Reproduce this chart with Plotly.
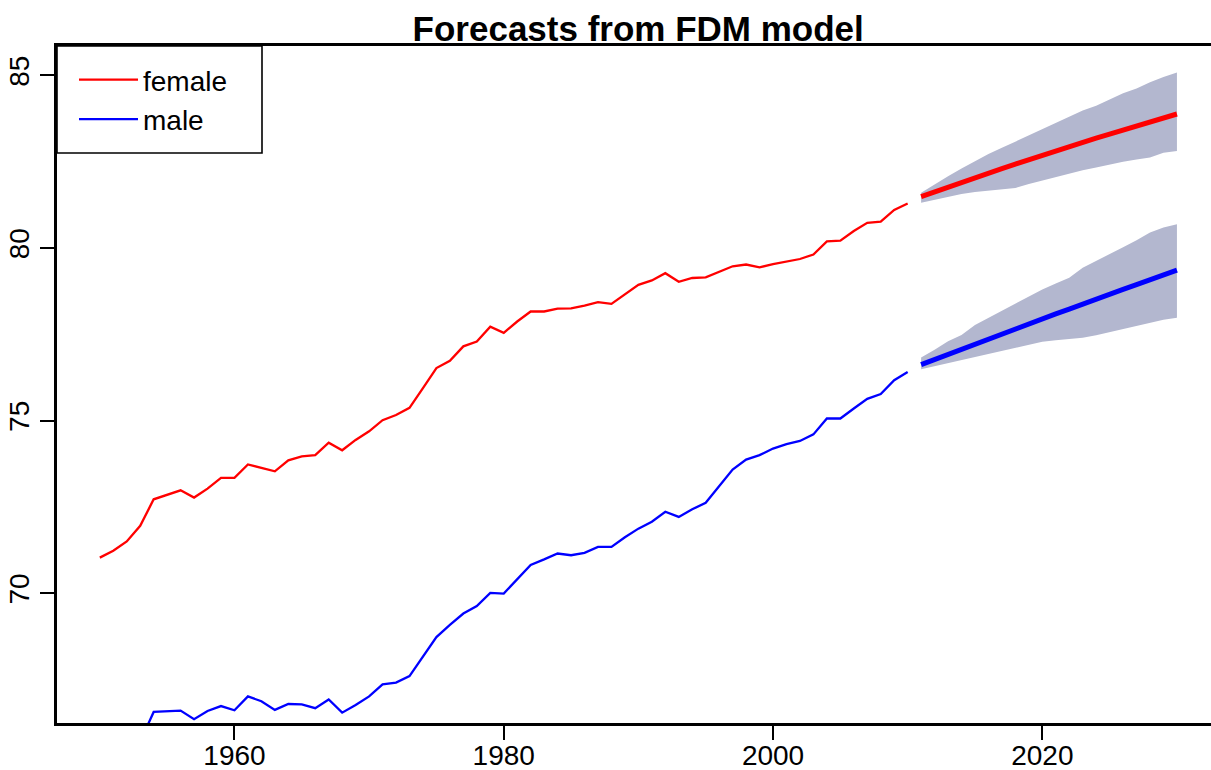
import plotly.graph_objects as go

# ---- historical data ----
years_hist = list(range(1950, 2011))
female_hist = [71.03, 71.23, 71.50, 71.95, 72.72, 72.84, 72.98, 72.77, 73.03, 73.34,
               73.34, 73.73, 73.63, 73.53, 73.85, 73.96, 74.00, 74.36, 74.14, 74.44,
               74.69, 75.01, 75.16, 75.37, 75.94, 76.52, 76.73, 77.15, 77.29, 77.72,
               77.54, 77.87, 78.16, 78.16, 78.24, 78.25, 78.33, 78.43, 78.38, 78.66,
               78.93, 79.06, 79.27, 79.02, 79.13, 79.15, 79.30, 79.47, 79.52, 79.44,
               79.53, 79.61, 79.68, 79.81, 80.19, 80.21, 80.49, 80.73, 80.76, 81.10,
               81.29]
male_hist = [65.10, 65.30, 65.50, 65.70, 66.56, 66.57, 66.60, 66.35, 66.59, 66.73,
             66.61, 67.01, 66.87, 66.62, 66.79, 66.78, 66.67, 66.92, 66.54, 66.76,
             67.01, 67.36, 67.41, 67.60, 68.18, 68.73, 69.08, 69.41, 69.63, 70.01,
             69.99, 70.41, 70.82, 70.98, 71.15, 71.10, 71.17, 71.34, 71.34, 71.62,
             71.87, 72.07, 72.36, 72.21, 72.43, 72.62, 73.11, 73.58, 73.87, 74.00,
             74.19, 74.32, 74.41, 74.60, 75.06, 75.06, 75.35, 75.63, 75.77, 76.17,
             76.41]

# ---- forecasts ----
years_fc = list(range(2011, 2031))
female_fc = [81.49, 81.63, 81.77, 81.90, 82.04, 82.17, 82.30, 82.43, 82.56, 82.69,
             82.81, 82.94, 83.06, 83.18, 83.30, 83.42, 83.54, 83.65, 83.77, 83.88]
female_hi = [81.60, 81.85, 82.08, 82.30, 82.52, 82.72, 82.90, 83.08, 83.27, 83.45,
             83.62, 83.80, 83.98, 84.12, 84.30, 84.48, 84.62, 84.80, 84.95, 85.08]
female_lo = [81.31, 81.40, 81.48, 81.56, 81.62, 81.66, 81.70, 81.74, 81.85, 81.95,
             82.06, 82.15, 82.25, 82.33, 82.42, 82.50, 82.56, 82.62, 82.76, 82.81]
male_fc = [76.62, 76.77, 76.92, 77.07, 77.22, 77.37, 77.51, 77.66, 77.80, 77.95,
           78.09, 78.23, 78.38, 78.52, 78.66, 78.80, 78.94, 79.08, 79.22, 79.36]
male_hi = [76.83, 77.05, 77.30, 77.48, 77.77, 77.98, 78.18, 78.38, 78.60, 78.80,
           78.97, 79.14, 79.43, 79.62, 79.82, 80.02, 80.22, 80.45, 80.59, 80.69]
male_lo = [76.49, 76.58, 76.66, 76.75, 76.85, 76.94, 77.03, 77.12, 77.20, 77.28,
           77.33, 77.37, 77.40, 77.47, 77.56, 77.65, 77.75, 77.85, 77.92, 77.98]

x_ticks = [1960, 1980, 2000, 2020]
y_ticks = [70, 75, 80, 85]

BAND = "rgb(179,183,207)"
FONT = "Liberation Sans, Arial, Helvetica, sans-serif"

W, H = 1211, 770
ML, MR, MT, MB = 57, 0, 46, 47
PW, PH = W - ML - MR, H - MT - MB

fig = go.Figure()

# bands
for lo, hi in [(female_lo, female_hi), (male_lo, male_hi)]:
    fig.add_trace(go.Scatter(x=years_fc, y=lo, mode="lines", line=dict(width=0, color=BAND),
                             showlegend=False, hoverinfo="skip"))
    fig.add_trace(go.Scatter(x=years_fc, y=hi, mode="lines", line=dict(width=0, color=BAND),
                             fill="tonexty", fillcolor=BAND, showlegend=False, hoverinfo="skip"))

# history
fig.add_trace(go.Scatter(x=years_hist, y=female_hist, mode="lines", name="female",
                         line=dict(color="#FF0000", width=2.3)))
fig.add_trace(go.Scatter(x=years_hist, y=male_hist, mode="lines", name="male",
                         line=dict(color="#0000FF", width=2.3)))
# forecasts
fig.add_trace(go.Scatter(x=years_fc, y=female_fc, mode="lines", showlegend=False,
                         line=dict(color="#FF0000", width=5)))
fig.add_trace(go.Scatter(x=years_fc, y=male_fc, mode="lines", showlegend=False,
                         line=dict(color="#0000FF", width=5)))

# legend frame (R-style box in the top-left corner)
fig.add_shape(type="rect", xref="paper", yref="paper",
              x0=0, x1=205 / PW, y0=1 - 107 / PH, y1=1,
              line=dict(color="black", width=1.6), fillcolor="white", layer="below")

fig.update_layout(
    width=W, height=H,
    margin=dict(l=ML, r=MR, t=MT, b=MB, autoexpand=False),
    paper_bgcolor="white", plot_bgcolor="white",
    font=dict(family=FONT, size=28, color="black"),
    title=dict(text="<b>Forecasts from FDM model</b>", font=dict(size=35, family=FONT),
               xref="container", x=0.527, xanchor="center",
               yref="container", y=1 - 29 / H, yanchor="middle"),
    showlegend=True,
    legend=dict(x=17 / PW, y=1 - 9 / PH, xanchor="left", yanchor="top",
                bgcolor="rgba(0,0,0,0)", borderwidth=0, traceorder="normal",
                font=dict(size=28, family=FONT), itemwidth=59),
    xaxis=dict(range=[1946.82, 2032.53], tickvals=x_ticks, showgrid=False, zeroline=False,
               showline=True, linecolor="black", linewidth=2.5, mirror=True,
               ticks="outside", ticklen=14, tickwidth=1.8, tickcolor="black",
               tickfont=dict(size=28), ticklabelstandoff=-8, automargin=False),
    yaxis=dict(range=[66.24, 85.85], tickvals=y_ticks, showgrid=False, zeroline=False,
               showline=True, linecolor="black", linewidth=2.5, mirror=False,
               ticks="outside", ticklen=14, tickwidth=1.8, tickcolor="black",
               tickangle=-90, tickfont=dict(size=28), automargin=False),
)

fig.write_html("out.html")
